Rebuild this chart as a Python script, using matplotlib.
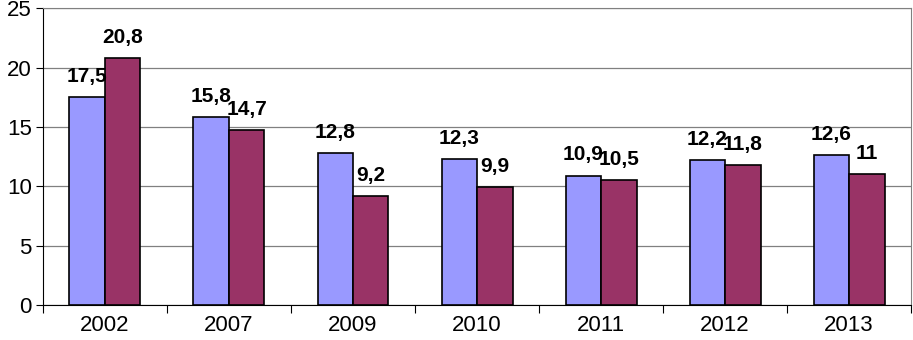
import numpy as np
import matplotlib
matplotlib.use('Agg')
import matplotlib.pyplot as plt

years = ['2002', '2007', '2009', '2010', '2011', '2012', '2013']
series1 = [17.5, 15.8, 12.8, 12.3, 10.9, 12.2, 12.6]
series2 = [20.8, 14.7, 9.2, 9.9, 10.5, 11.8, 11.0]


def fmt(v):
    # comma as decimal separator, drop trailing ,0
    if float(v).is_integer():
        return str(int(v))
    return ('%.1f' % v).replace('.', ',')


plt.rcParams['font.family'] = ['Liberation Sans', 'DejaVu Sans']

fig = plt.figure(figsize=(9.13, 3.40), dpi=100)
ax = fig.add_axes([0.047, 0.103, 0.951, 0.873])

x = np.arange(len(years))
w = 0.286
b1 = ax.bar(x - w / 2, series1, w, color='#9999FF', edgecolor='black', linewidth=1.2, zorder=3)
b2 = ax.bar(x + w / 2, series2, w, color='#993366', edgecolor='black', linewidth=1.2, zorder=3)

for bars, vals in [(b1, series1), (b2, series2)]:
    for r, v in zip(bars, vals):
        ax.annotate(fmt(v), (r.get_x() + r.get_width() / 2, v),
                    xytext=(0, 8), textcoords='offset points',
                    ha='center', va='bottom', fontsize=15, fontweight='bold', zorder=4)

ax.set_xlim(-0.5, len(years) - 0.5)
ax.set_ylim(0, 25)
ax.set_yticks(range(0, 26, 5))
ax.yaxis.grid(True, color='#808080', linewidth=0.9, zorder=0)

# ticks between categories, labels centered
ax.set_xticks(np.arange(-0.5, len(years), 1.0))
ax.set_xticklabels([])
ax.set_xticks(x, minor=True)
ax.set_xticklabels(years, minor=True)
ax.tick_params(axis='x', which='major', direction='out', length=6, color='black')
ax.tick_params(axis='x', which='minor', length=0, labelsize=16, pad=7)
ax.tick_params(axis='y', direction='out', length=5, labelsize=16, pad=3)

for s in ['top', 'right']:
    ax.spines[s].set_color('#808080')
ax.spines['left'].set_color('black')
ax.spines['bottom'].set_color('black')

fig.savefig('out.png', dpi=100)
